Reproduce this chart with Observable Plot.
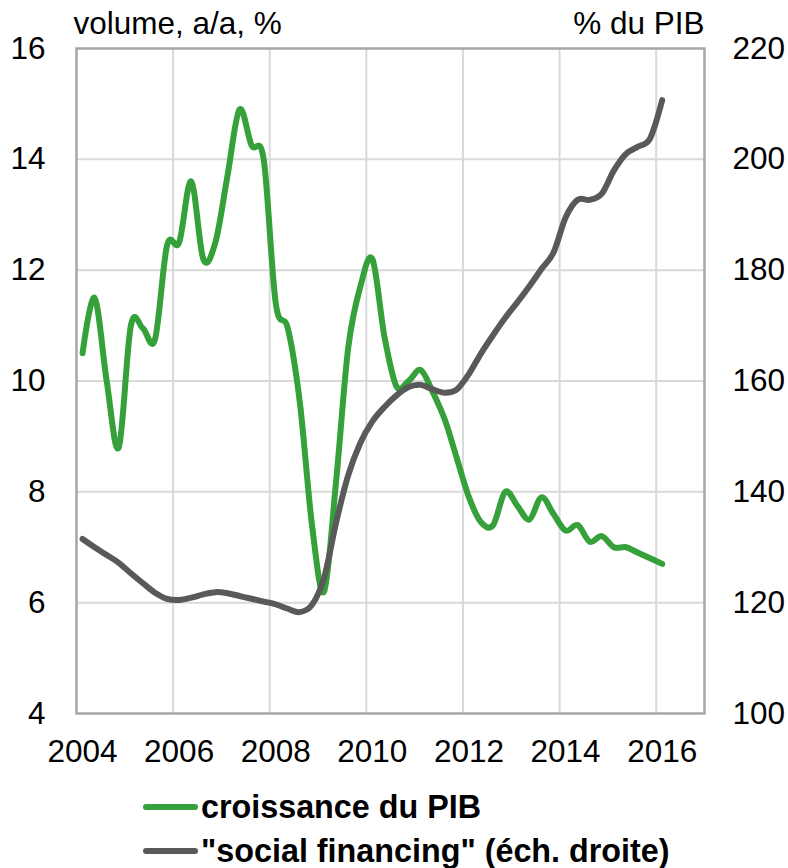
<!DOCTYPE html>
<html>
<head>
<meta charset="utf-8">
<script src="https://cdn.jsdelivr.net/npm/d3@7"></script>
<script src="https://cdn.jsdelivr.net/npm/@observablehq/plot@0.6"></script>
<style>
  html, body { margin: 0; padding: 0; background: #fff; }
  body { width: 788px; height: 868px; overflow: hidden; font-family: "Liberation Sans", Arial, sans-serif; }
  #legend { position: relative; height: 88px; width: 788px; }
  .row { position: absolute; left: 143px; height: 40px; display: flex; align-items: center; font-weight: bold; font-size: 32.3px; line-height: 40px; color: #000; white-space: nowrap; }
  .swatch { width: 55px; height: 6px; border-radius: 3px; margin-right: 3px; }
</style>
</head>
<body>
<div id="chart"></div>
<div id="legend"></div>
<script>
// ---- Data ----
const quarters = [
  "2004T1","2004T2","2004T3","2004T4",
  "2005T1","2005T2","2005T3","2005T4",
  "2006T1","2006T2","2006T3","2006T4",
  "2007T1","2007T2","2007T3","2007T4",
  "2008T1","2008T2","2008T3","2008T4",
  "2009T1","2009T2","2009T3","2009T4",
  "2010T1","2010T2","2010T3","2010T4",
  "2011T1","2011T2","2011T3","2011T4",
  "2012T1","2012T2","2012T3","2012T4",
  "2013T1","2013T2","2013T3","2013T4",
  "2014T1","2014T2","2014T3","2014T4",
  "2015T1","2015T2","2015T3","2015T4",
  "2016T1"
];
// croissance du PIB, volume a/a, % (left axis)
const gdpGrowth = [
  10.5, 11.5, 10.0, 8.8,
  11.0, 10.95, 10.75, 12.45,
  12.5, 13.6, 12.2, 12.5,
  13.7, 14.9, 14.25, 14.0,
  11.4, 10.95, 9.6, 7.4,
  6.2, 8.2, 10.6, 11.7,
  12.2, 10.8, 9.9, 10.0,
  10.2, 9.8, 9.3, 8.6,
  7.9, 7.45, 7.4, 8.0,
  7.75, 7.5, 7.9, 7.6,
  7.3, 7.4, 7.1, 7.2,
  7.0, 7.0, 6.9, 6.8,
  6.7
];
// "social financing", % du PIB (right axis)
const socialFinancing = [
  131.5, 130.0, 128.6, 127.2,
  125.3, 123.5, 121.8, 120.7,
  120.5, 120.9, 121.5, 121.9,
  121.7, 121.2, 120.7, 120.2,
  119.7, 118.9, 118.3, 119.6,
  124.5, 134.5, 143.0, 148.8,
  152.7, 155.3, 157.4, 158.9,
  159.3, 158.5, 157.9, 158.5,
  161.3, 165.0, 168.3, 171.4,
  174.2, 177.1, 180.2, 183.2,
  189.5, 192.7, 192.7, 193.8,
  198.0, 201.0, 202.3, 203.8,
  210.7
];
const xTicks = [2004, 2006, 2008, 2010, 2012, 2014, 2016];
const leftTicks = [4, 6, 8, 10, 12, 14, 16];
const rightTicks = [100, 120, 140, 160, 180, 200, 220];
const leftTitle = "volume, a/a, %";
const rightTitle = "% du PIB";
const seriesNames = ["croissance du PIB", "\"social financing\" (éch. droite)"];
const seriesColors = ["#36a03a", "#595959"];

// ---- Helpers ----
const qToYear = q => +q.slice(0, 4) + (+q.slice(5) - 1) / 4 + 0.125;
const rightToLeft = r => 4 + (r - 100) / 10;   // 100..220 -> 4..16
const leftToRight = l => 100 + (l - 4) * 10;

const gdpData = quarters.map((q, i) => ({t: qToYear(q), v: gdpGrowth[i]}));
const sfData = quarters.map((q, i) => ({t: qToYear(q), v: rightToLeft(socialFinancing[i])}));

const FS = 31.5;
const chart = Plot.plot({
  width: 788,
  height: 780,
  marginLeft: 76,
  marginRight: 84,
  marginTop: 48,
  marginBottom: 67,
  style: {fontFamily: "'Liberation Sans', Arial, sans-serif", fontSize: FS + "px", background: "#fff", color: "#000", overflow: "visible"},
  x: {domain: [2004, 2017]},
  y: {domain: [4, 16]},
  marks: [
    Plot.gridX(xTicks.slice(1), {stroke: "#d9d9d9", strokeOpacity: 1, strokeWidth: 2}),
    Plot.gridY(leftTicks.slice(1, -1), {stroke: "#d9d9d9", strokeOpacity: 1, strokeWidth: 2}),
    Plot.frame({stroke: "#a6a6a6", strokeWidth: 2.5}),
    Plot.axisX(xTicks, {tickSize: 0, tickPadding: 26, dx: 6, tickFormat: d => String(d), label: null, fontSize: FS}),
    Plot.axisY(leftTicks, {anchor: "left", tickSize: 0, tickPadding: 31, tickFormat: d => String(d), label: null, fontSize: FS}),
    Plot.axisY(rightTicks.map(rightToLeft), {anchor: "right", tickSize: 0, tickPadding: 28, tickFormat: d => String(Math.round(leftToRight(d))), label: null, fontSize: FS}),
    Plot.line(gdpData, {x: "t", y: "v", curve: "cardinal", stroke: seriesColors[0], strokeWidth: 6, strokeLinecap: "round", strokeLinejoin: "round"}),
    Plot.line(sfData, {x: "t", y: "v", curve: "cardinal", stroke: seriesColors[1], strokeWidth: 6, strokeLinecap: "round", strokeLinejoin: "round"}),
    Plot.text([leftTitle], {frameAnchor: "top-left", textAnchor: "start", lineAnchor: "bottom", dx: -3, dy: -15, fontSize: FS, fill: "#000"}),
    Plot.text([rightTitle], {frameAnchor: "top-right", textAnchor: "end", lineAnchor: "bottom", dx: 0, dy: -15, fontSize: FS, fill: "#000"})
  ]
});
document.getElementById("chart").appendChild(chart);

// ---- Legend ----
const legend = document.getElementById("legend");
const tops = [7, 51];
seriesNames.forEach((name, i) => {
  const row = document.createElement("div");
  row.className = "row";
  row.style.top = tops[i] + "px";
  const sw = document.createElement("span");
  sw.className = "swatch";
  sw.style.background = seriesColors[i];
  const tx = document.createElement("span");
  tx.textContent = name;
  row.appendChild(sw);
  row.appendChild(tx);
  legend.appendChild(row);
});
</script>
</body>
</html>
